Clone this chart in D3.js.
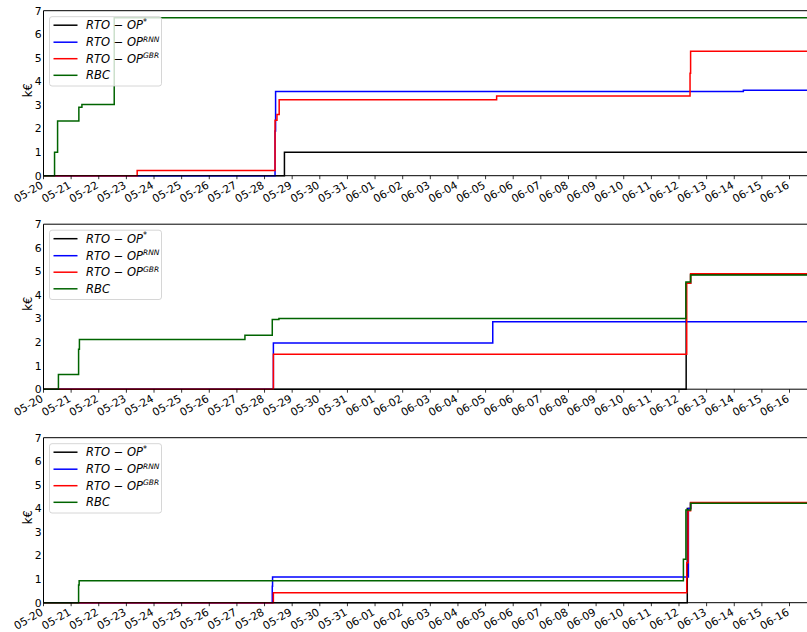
<!DOCTYPE html>
<html>
<head>
<meta charset="utf-8">
<script src="https://cdn.jsdelivr.net/npm/d3@7"></script>
<style>
  html, body { margin: 0; padding: 0; background: #fff; }
  svg { display: block; }
</style>
</head>
<body>
<svg id="chart" width="807" height="632"></svg>
<script>
// ---------- DATA ----------
const dateStart = "05-20 00:00";
const dateEnd = "06-17 00:00";
const yTicks = [0, 1, 2, 3, 4, 5, 6, 7];
const seriesNames = ["RTO-OP*", "RTO-OP^RNN", "RTO-OP^GBR", "RBC"];
const seriesColors = ["#000000", "#0000ff", "#ff0000", "#006400"];

// Panel 1: cumulative cost (k€), step points [time, value]
const p1Star = [["05-20 00:00", 0], ["05-28 17:17", 1.0]];
const p1RNN = [["05-20 00:00", 0], ["05-28 09:07", 1.9], ["05-28 09:36", 3.57], ["06-14 07:55", 3.62]];
const p1GBR = [["05-20 00:00", 0], ["05-23 09:22", 0.22], ["05-28 09:07", 2.35], ["05-28 10:48", 2.6], ["05-28 12:43", 3.22],
               ["06-05 09:36", 3.38], ["06-12 09:36", 4.35], ["06-12 10:05", 5.28]];
const p1RBC = [["05-20 00:00", 0], ["05-20 09:36", 1.0], ["05-20 12:14", 2.32], ["05-21 06:43", 2.9], ["05-21 09:22", 3.02],
               ["05-22 13:26", 6.7]];

// Panel 2
const p2Star = [["05-20 00:00", 0], ["06-12 06:14", 4.5], ["06-12 10:05", 4.87]];
const p2RNN = [["05-20 00:00", 0], ["05-28 07:41", 1.96], ["06-05 06:14", 2.86]];
const p2GBR = [["05-20 00:00", 0], ["05-28 07:41", 1.48], ["06-12 06:43", 4.5], ["06-12 10:05", 4.9]];
const p2RBC = [["05-20 00:00", 0], ["05-20 12:58", 0.62], ["05-21 06:29", 1.7], ["05-21 07:12", 2.11], ["05-27 06:58", 2.29],
               ["05-28 06:43", 2.96], ["05-28 12:29", 3.0], ["06-12 06:00", 4.55], ["06-12 10:05", 4.85]];

// Panel 3
const p3Star = [["05-20 00:00", 0], ["06-12 07:12", 4.0], ["06-12 10:05", 4.22]];
const p3RNN = [["05-20 00:00", 0], ["05-28 06:43", 0.7], ["05-28 06:58", 1.09], ["06-12 08:10", 4.0], ["06-12 10:05", 4.23]];
const p3GBR = [["05-20 00:00", 0], ["05-28 07:41", 0.42], ["06-12 06:43", 1.7], ["06-12 07:55", 3.9], ["06-12 10:05", 4.25]];
const p3RBC = [["05-20 00:00", 0], ["05-21 06:29", 0.75], ["05-21 06:58", 0.93], ["06-12 03:50", 1.84], ["06-12 06:00", 3.93],
               ["06-12 10:05", 4.22]];

const panels = [
  [p1Star, p1RNN, p1GBR, p1RBC],
  [p2Star, p2RNN, p2GBR, p2RBC],
  [p3Star, p3RNN, p3GBR, p3RBC]
];

// ---------- LAYOUT ----------
const parse = d3.utcParse("%m-%d %H:%M");
const fmt = d3.utcFormat("%m-%d");
const t0 = parse(dateStart), t1 = parse(dateEnd);
const left = 43.5, dayPx = 27.63;
const panelTops = [10.7, 224.2, 437.7];
const panelH = 165;

const x = d3.scaleUtc().domain([t0, t1]).range([left, left + 28 * dayPx]);
const svg = d3.select("#chart");
const tickFont = "'DejaVu Sans', sans-serif";

panels.forEach((series, pi) => {
  const top = panelTops[pi], bottom = top + panelH;
  const y = d3.scaleLinear().domain([0, 7]).range([bottom, top]);
  const g = svg.append("g");

  const line = d3.line()
    .x(d => x(d[0])).y(d => y(d[1]))
    .curve(d3.curveStepAfter);

  series.forEach((pts, si) => {
    const data = pts.map(p => [parse(p[0]), p[1]]);
    data.push([t1, data[data.length - 1][1]]);
    g.append("path")
      .attr("d", line(data))
      .attr("fill", "none")
      .attr("stroke", seriesColors[si])
      .attr("stroke-width", 1.5)
      .attr("stroke-linejoin", "miter");
  });

  // spines
  g.append("line").attr("x1", left).attr("x2", 807).attr("y1", top).attr("y2", top)
    .attr("stroke", "#000").attr("stroke-width", 1);
  g.append("line").attr("x1", left).attr("x2", 807).attr("y1", bottom).attr("y2", bottom)
    .attr("stroke", "#000").attr("stroke-width", 1);
  g.append("line").attr("x1", left).attr("x2", left).attr("y1", top).attr("y2", bottom)
    .attr("stroke", "#000").attr("stroke-width", 1);

  // x ticks
  const days = d3.utcDay.range(t0, t1);
  days.forEach(d => {
    const xx = x(d);
    g.append("line").attr("x1", xx).attr("x2", xx).attr("y1", bottom).attr("y2", bottom + 3.5)
      .attr("stroke", "#000").attr("stroke-width", 0.8);
    g.append("text")
      .attr("transform", `translate(${xx + 0.5},${bottom + 11.5}) rotate(-30)`)
      .attr("text-anchor", "end")
      .attr("font-family", tickFont)
      .attr("font-size", 10.8)
      .attr("fill", "#000")
      .text(fmt(d));
  });

  // y ticks
  yTicks.forEach(v => {
    g.append("text")
      .attr("x", 41.5).attr("y", y(v))
      .attr("dy", "0.36em")
      .attr("text-anchor", "end")
      .attr("font-family", tickFont)
      .attr("font-size", 10.8)
      .attr("fill", "#000")
      .text(v);
  });

  // y label
  g.append("text")
    .attr("transform", `translate(32,${(top + bottom) / 2 - 3}) rotate(-90)`)
    .attr("text-anchor", "middle")
    .attr("font-family", tickFont)
    .attr("font-size", 11.5)
    .attr("fill", "#000")
    .text("k€");

  // legend
  const lg = g.append("g").attr("transform", `translate(0,${top})`);
  lg.append("rect")
    .attr("x", 49.5).attr("y", 6).attr("width", 112).attr("height", 69.3)
    .attr("rx", 2.5)
    .attr("fill", "#fff").attr("fill-opacity", 0.8)
    .attr("stroke", "#cccccc").attr("stroke-width", 0.8);
  const rowY = [14.5, 31.5, 48, 64.6];
  seriesNames.forEach((name, si) => {
    const ry = rowY[si];
    lg.append("line").attr("x1", 53.5).attr("x2", 77.5).attr("y1", ry).attr("y2", ry)
      .attr("stroke", seriesColors[si]).attr("stroke-width", 1.5);
    const txt = lg.append("text")
      .attr("x", 86).attr("y", ry + 4.2)
      .attr("font-family", tickFont)
      .attr("font-size", 11.5)
      .attr("fill", "#000");
    if (name === "RBC") {
      txt.append("tspan").attr("font-style", "italic").text("RBC");
    } else {
      const parts = name.split("^");
      const sup = parts.length > 1 ? parts[1] : "*";
      txt.append("tspan").attr("font-style", "italic").text("RTO");
      txt.append("tspan").text(" − ");
      txt.append("tspan").attr("font-style", "italic").text("OP");
      txt.append("tspan").attr("font-style", "italic").attr("font-size", sup === "*" ? 8 : 7.5)
        .attr("dy", -4.5).text(sup);
    }
  });
});
</script>
</body>
</html>
